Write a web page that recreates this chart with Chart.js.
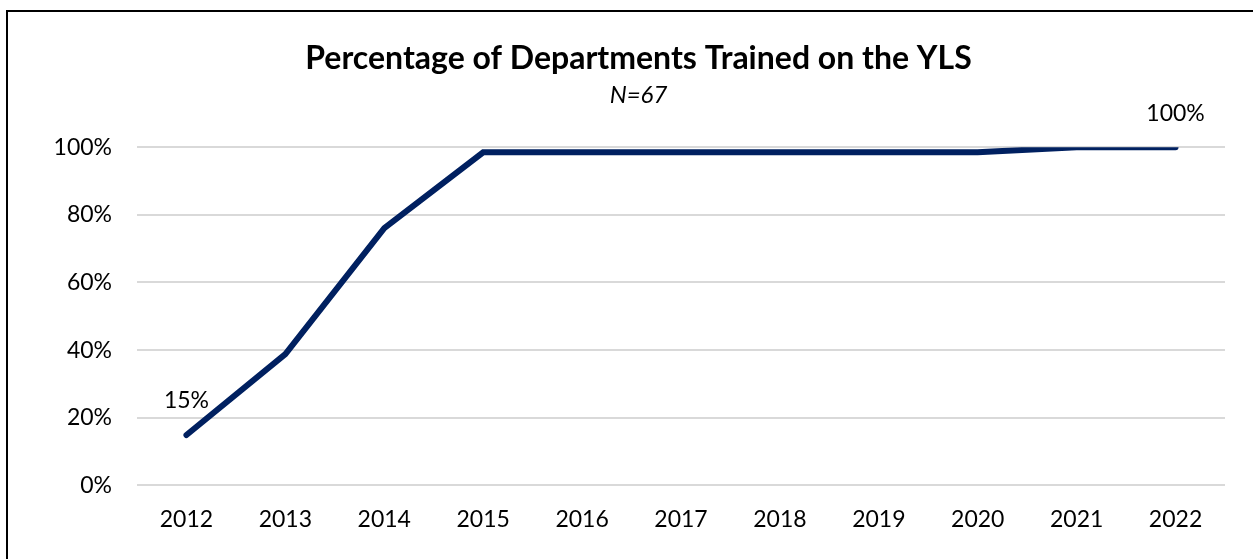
<!DOCTYPE html>
<html lang="en">
<head>
    <meta charset="UTF-8">
    <title>Percentage of Departments Trained on the YLS</title>
    <script src="https://cdn.jsdelivr.net/npm/chart.js"></script>
    <style>
        html, body {
            margin: 0;
            padding: 0;
            background: #ffffff;
            overflow: hidden;
        }
        .frame {
            position: absolute;
            left: 6px;
            top: 10px;
            width: 1300px;
            height: 700px;
            border: 2px solid #000;
        }
        .chart-box {
            position: absolute;
            left: 0;
            top: 0;
            width: 1253px;
            height: 559px;
        }
    </style>
</head>
<body>
    <div class="frame"></div>
    <div class="chart-box">
        <canvas id="trainedChart"></canvas>
    </div>

    <script>
        // data (share of 67 departments)
        const years = ['2012', '2013', '2014', '2015', '2016', '2017', '2018', '2019', '2020', '2021', '2022'];
        const pctTrained = [14.9, 38.8, 76.1, 98.5, 98.5, 98.5, 98.5, 98.5, 98.5, 100, 100];
        const labelledPoints = [0, 10]; // only first and last get a value label
        const yTicks = [0, 20, 40, 60, 80, 100];

        const fontFamily = 'Lato, "Open Sans", sans-serif';

        // small plugin to write the value labels above the chosen points
        const pointLabels = {
            id: 'pointLabels',
            afterDatasetsDraw(chart) {
                const ctx = chart.ctx;
                const meta = chart.getDatasetMeta(0);
                ctx.save();
                ctx.font = '23px ' + fontFamily;
                ctx.fillStyle = '#000';
                ctx.textAlign = 'center';
                ctx.textBaseline = 'middle';
                labelledPoints.forEach(i => {
                    const pt = meta.data[i];
                    ctx.fillText(Math.round(pctTrained[i]) + '%', pt.x, pt.y - 34);
                });
                ctx.restore();
            }
        };

        const ctx = document.getElementById('trainedChart').getContext('2d');
        const chart = new Chart(ctx, {
            type: 'line',
            data: {
                labels: years,
                datasets: [{
                    label: 'Trained',
                    data: pctTrained,
                    borderColor: '#002060',
                    borderWidth: 6,
                    pointRadius: 0,
                    tension: 0,
                    fill: false,
                    borderCapStyle: 'round'
                }]
            },
            options: {
                responsive: true,
                maintainAspectRatio: false,
                animation: false,
                layout: {
                    padding: { left: 52, right: 28, top: 0, bottom: 6 }
                },
                plugins: {
                    legend: { display: false },
                    tooltip: { enabled: false },
                    title: {
                        display: true,
                        text: 'Percentage of Departments Trained on the YLS',
                        color: '#000',
                        font: { family: fontFamily, size: 32, weight: 'bold' },
                        padding: { top: 39, bottom: 3 }
                    },
                    subtitle: {
                        display: true,
                        text: 'N=67',
                        color: '#000',
                        font: { family: fontFamily, size: 24, style: 'italic' },
                        padding: { top: 0, bottom: 38 }
                    }
                },
                scales: {
                    x: {
                        offset: true,
                        grid: { display: false, drawTicks: false },
                        border: { display: false },
                        ticks: {
                            color: '#000',
                            font: { family: fontFamily, size: 23 },
                            padding: 20,
                            maxRotation: 0
                        }
                    },
                    y: {
                        min: 0,
                        max: 100,
                        afterFit(scale) { scale.width = 85; },
                        afterBuildTicks(scale) {
                            scale.ticks = yTicks.map(v => ({ value: v }));
                        },
                        grid: { color: '#d9d9d9', lineWidth: 2, drawTicks: false },
                        border: { display: false },
                        ticks: {
                            color: '#000',
                            font: { family: fontFamily, size: 23 },
                            padding: 25,
                            callback: v => v + '%'
                        }
                    }
                }
            },
            plugins: [pointLabels]
        });
    </script>
</body>
</html>
